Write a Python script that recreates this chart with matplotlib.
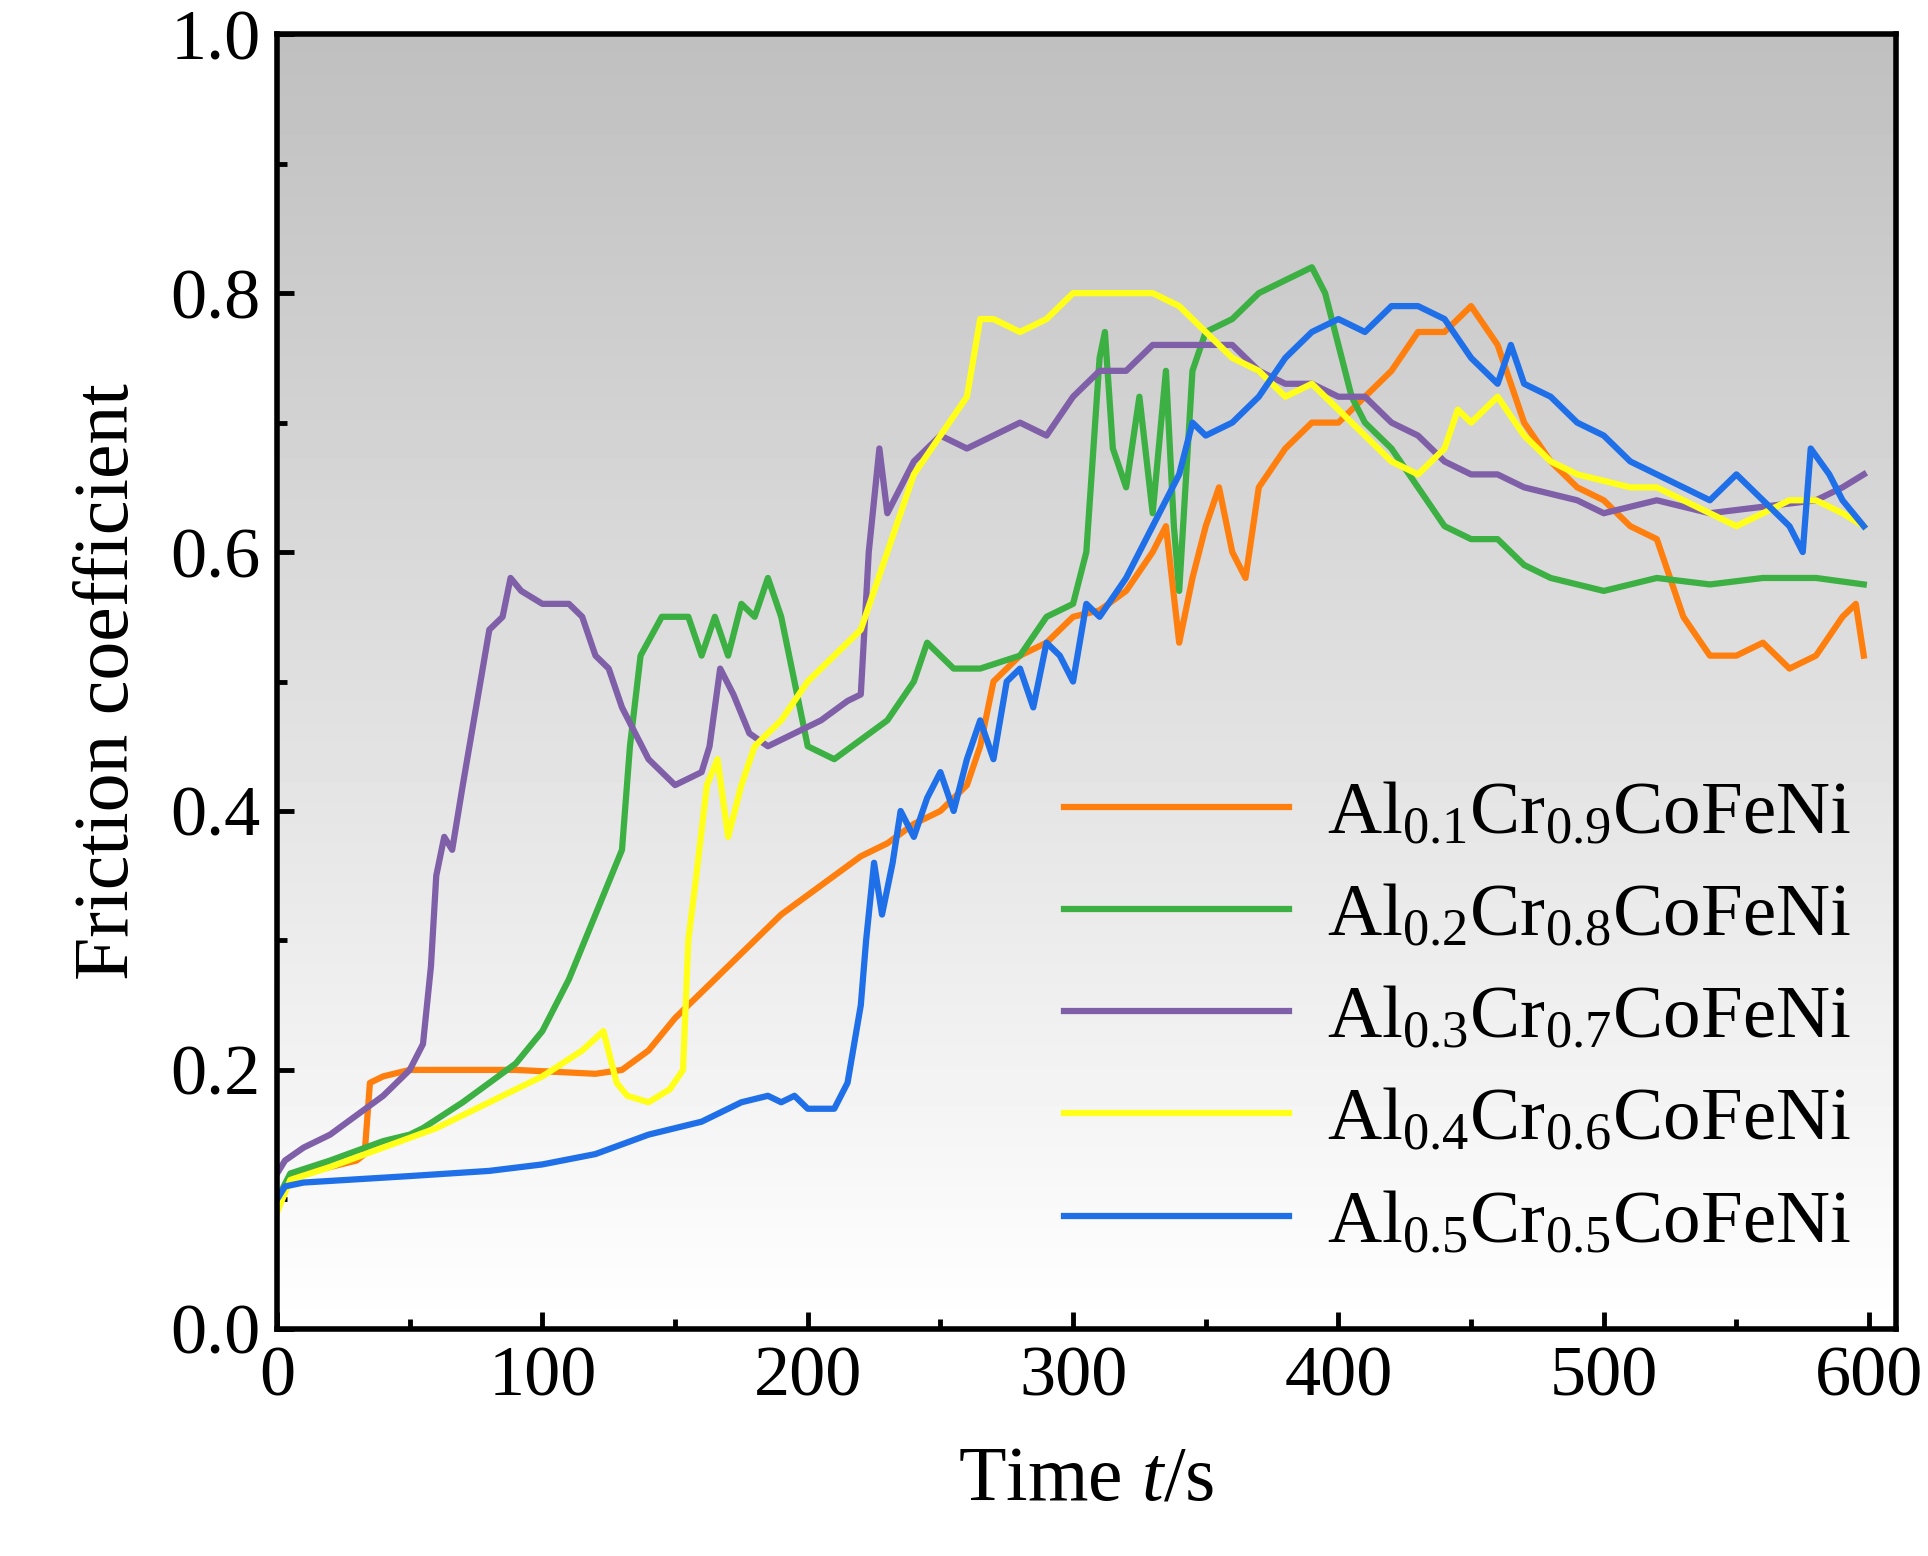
import numpy as np
import matplotlib
matplotlib.use("Agg")
import matplotlib.pyplot as plt
from matplotlib.ticker import MultipleLocator

plt.rcParams["font.family"] = "Liberation Serif"
plt.rcParams["mathtext.fontset"] = "custom"
plt.rcParams["mathtext.rm"] = "Liberation Serif"
plt.rcParams["mathtext.it"] = "Liberation Serif:italic"

t1 = [0, 5, 10, 20, 30, 33, 35, 40, 50, 70, 90, 110, 120, 130, 140, 150, 160, 170, 180, 190, 200, 210, 220, 230, 240, 250, 260, 265, 270, 280, 290, 300, 310, 320, 330, 335, 340, 345, 350, 355, 360, 365, 370, 380, 390, 400, 410, 420, 430, 440, 450, 460, 470, 480, 490, 500, 510, 520, 525, 530, 540, 550, 560, 570, 580, 590, 595, 598]
y1 = [0.10, 0.115, 0.12, 0.125, 0.13, 0.135, 0.19, 0.195, 0.2, 0.2, 0.2, 0.198, 0.197, 0.2, 0.215, 0.24, 0.26, 0.28, 0.30, 0.32, 0.335, 0.35, 0.365, 0.375, 0.39, 0.40, 0.42, 0.45, 0.50, 0.52, 0.53, 0.55, 0.555, 0.57, 0.60, 0.62, 0.53, 0.58, 0.62, 0.65, 0.60, 0.58, 0.65, 0.68, 0.70, 0.70, 0.72, 0.74, 0.77, 0.77, 0.79, 0.76, 0.70, 0.67, 0.65, 0.64, 0.62, 0.61, 0.58, 0.55, 0.52, 0.52, 0.53, 0.51, 0.52, 0.55, 0.56, 0.52]

t2 = [0, 5, 20, 40, 50, 55, 70, 90, 100, 110, 120, 130, 133, 137, 145, 155, 160, 165, 170, 175, 180, 185, 190, 195, 200, 210, 220, 230, 240, 245, 250, 255, 265, 280, 290, 300, 305, 310, 312, 315, 320, 325, 330, 335, 338, 340, 345, 350, 360, 370, 380, 390, 395, 400, 405, 410, 420, 430, 440, 450, 460, 470, 480, 490, 500, 510, 520, 540, 560, 580, 598]
y2 = [0.1, 0.12, 0.13, 0.145, 0.15, 0.155, 0.175, 0.205, 0.23, 0.27, 0.32, 0.37, 0.45, 0.52, 0.55, 0.55, 0.52, 0.55, 0.52, 0.56, 0.55, 0.58, 0.55, 0.50, 0.45, 0.44, 0.455, 0.47, 0.50, 0.53, 0.52, 0.51, 0.51, 0.52, 0.55, 0.56, 0.60, 0.75, 0.77, 0.68, 0.65, 0.72, 0.63, 0.74, 0.62, 0.57, 0.74, 0.77, 0.78, 0.80, 0.81, 0.82, 0.80, 0.76, 0.72, 0.70, 0.68, 0.65, 0.62, 0.61, 0.61, 0.59, 0.58, 0.575, 0.57, 0.575, 0.58, 0.575, 0.58, 0.58, 0.575]

t3 = [0, 3, 10, 20, 30, 40, 50, 55, 58, 60, 63, 66, 70, 75, 80, 85, 88, 92, 100, 110, 115, 120, 125, 130, 140, 150, 160, 163, 167, 172, 178, 185, 195, 205, 215, 220, 223, 227, 230, 240, 250, 260, 270, 280, 290, 300, 310, 320, 330, 340, 350, 360, 370, 380, 390, 400, 410, 420, 430, 440, 450, 460, 470, 480, 490, 500, 520, 540, 560, 580, 590, 598]
y3 = [0.12, 0.13, 0.14, 0.15, 0.165, 0.18, 0.2, 0.22, 0.28, 0.35, 0.38, 0.37, 0.42, 0.48, 0.54, 0.55, 0.58, 0.57, 0.56, 0.56, 0.55, 0.52, 0.51, 0.48, 0.44, 0.42, 0.43, 0.45, 0.51, 0.49, 0.46, 0.45, 0.46, 0.47, 0.485, 0.49, 0.60, 0.68, 0.63, 0.67, 0.69, 0.68, 0.69, 0.70, 0.69, 0.72, 0.74, 0.74, 0.76, 0.76, 0.76, 0.76, 0.74, 0.73, 0.73, 0.72, 0.72, 0.70, 0.69, 0.67, 0.66, 0.66, 0.65, 0.645, 0.64, 0.63, 0.64, 0.63, 0.635, 0.64, 0.65, 0.66]

t4 = [0, 5, 20, 40, 60, 80, 100, 115, 123, 128, 132, 140, 148, 153, 155, 158, 162, 166, 170, 175, 180, 190, 200, 210, 220, 230, 240, 250, 260, 265, 270, 280, 290, 300, 310, 320, 330, 340, 350, 360, 370, 380, 390, 400, 410, 420, 430, 440, 445, 450, 460, 470, 480, 490, 500, 510, 520, 530, 540, 550, 560, 570, 580, 590, 598]
y4 = [0.09, 0.115, 0.125, 0.14, 0.155, 0.175, 0.195, 0.215, 0.23, 0.19, 0.18, 0.175, 0.185, 0.2, 0.3, 0.35, 0.42, 0.44, 0.38, 0.42, 0.45, 0.47, 0.50, 0.52, 0.54, 0.60, 0.66, 0.69, 0.72, 0.78, 0.78, 0.77, 0.78, 0.80, 0.80, 0.80, 0.80, 0.79, 0.77, 0.75, 0.74, 0.72, 0.73, 0.71, 0.69, 0.67, 0.66, 0.68, 0.71, 0.70, 0.72, 0.69, 0.67, 0.66, 0.655, 0.65, 0.65, 0.64, 0.63, 0.62, 0.63, 0.64, 0.64, 0.63, 0.62]

t5 = [0, 3, 10, 50, 80, 100, 120, 140, 160, 175, 185, 190, 195, 200, 210, 215, 220, 222, 225, 228, 232, 235, 240, 245, 250, 255, 260, 265, 270, 275, 280, 285, 290, 295, 300, 305, 310, 320, 330, 340, 345, 350, 360, 370, 380, 390, 400, 410, 420, 430, 440, 450, 460, 465, 470, 480, 490, 500, 510, 520, 530, 540, 550, 560, 570, 575, 578, 585, 590, 598]
y5 = [0.1, 0.11, 0.113, 0.118, 0.122, 0.127, 0.135, 0.15, 0.16, 0.175, 0.18, 0.175, 0.18, 0.17, 0.17, 0.19, 0.25, 0.3, 0.36, 0.32, 0.36, 0.40, 0.38, 0.41, 0.43, 0.40, 0.44, 0.47, 0.44, 0.50, 0.51, 0.48, 0.53, 0.52, 0.50, 0.56, 0.55, 0.58, 0.62, 0.66, 0.70, 0.69, 0.70, 0.72, 0.75, 0.77, 0.78, 0.77, 0.79, 0.79, 0.78, 0.75, 0.73, 0.76, 0.73, 0.72, 0.70, 0.69, 0.67, 0.66, 0.65, 0.64, 0.66, 0.64, 0.62, 0.60, 0.68, 0.66, 0.64, 0.62]

series = [
    (t1, y1, "#FF7F0E", r"Al$_{0.1}$Cr$_{0.9}$CoFeNi"),
    (t2, y2, "#3CB043", r"Al$_{0.2}$Cr$_{0.8}$CoFeNi"),
    (t3, y3, "#7F5FA8", r"Al$_{0.3}$Cr$_{0.7}$CoFeNi"),
    (t4, y4, "#FFFF1A", r"Al$_{0.4}$Cr$_{0.6}$CoFeNi"),
    (t5, y5, "#1F6FE8", r"Al$_{0.5}$Cr$_{0.5}$CoFeNi"),
]

fig = plt.figure(figsize=(19.28, 15.56), dpi=100)
ax = fig.add_axes([0.1437, 0.146, 0.8395, 0.832])

# grey at the top fading to white at the bottom
grad = np.linspace(0.75, 1.0, 256).reshape(-1, 1)
ax.imshow(grad, cmap="gray", vmin=0, vmax=1, aspect="auto", origin="upper",
          extent=[0, 1, 0, 1], transform=ax.transAxes, zorder=0)

for t, y, c, lab in series:
    ax.plot(t, y, color=c, lw=4.5, label=lab, zorder=2)

ax.set_xlim(0, 610)
ax.set_ylim(0, 1.0)
ax.xaxis.set_major_locator(MultipleLocator(100))
ax.xaxis.set_minor_locator(MultipleLocator(50))
ax.yaxis.set_major_locator(MultipleLocator(0.2))
ax.yaxis.set_minor_locator(MultipleLocator(0.1))
ax.yaxis.set_major_formatter(matplotlib.ticker.FormatStrFormatter("%.1f"))
ax.tick_params(which="both", direction="in", width=3.5, labelsize=52, pad=12)
ax.tick_params(which="major", length=12)
ax.tick_params(which="minor", length=7)
for s in ax.spines.values():
    s.set_linewidth(4)

ax.set_xlabel(r"Time $t$/s", fontsize=56, labelpad=25)
ax.set_ylabel("Friction coefficient", fontsize=56, labelpad=18)

ax.legend(loc="lower right", bbox_to_anchor=(1.0, 0.02), frameon=False, fontsize=54,
          handlelength=3.0, labelspacing=0.45, handletextpad=0.5, borderaxespad=0.2)

fig.savefig("out.png", dpi=100)
